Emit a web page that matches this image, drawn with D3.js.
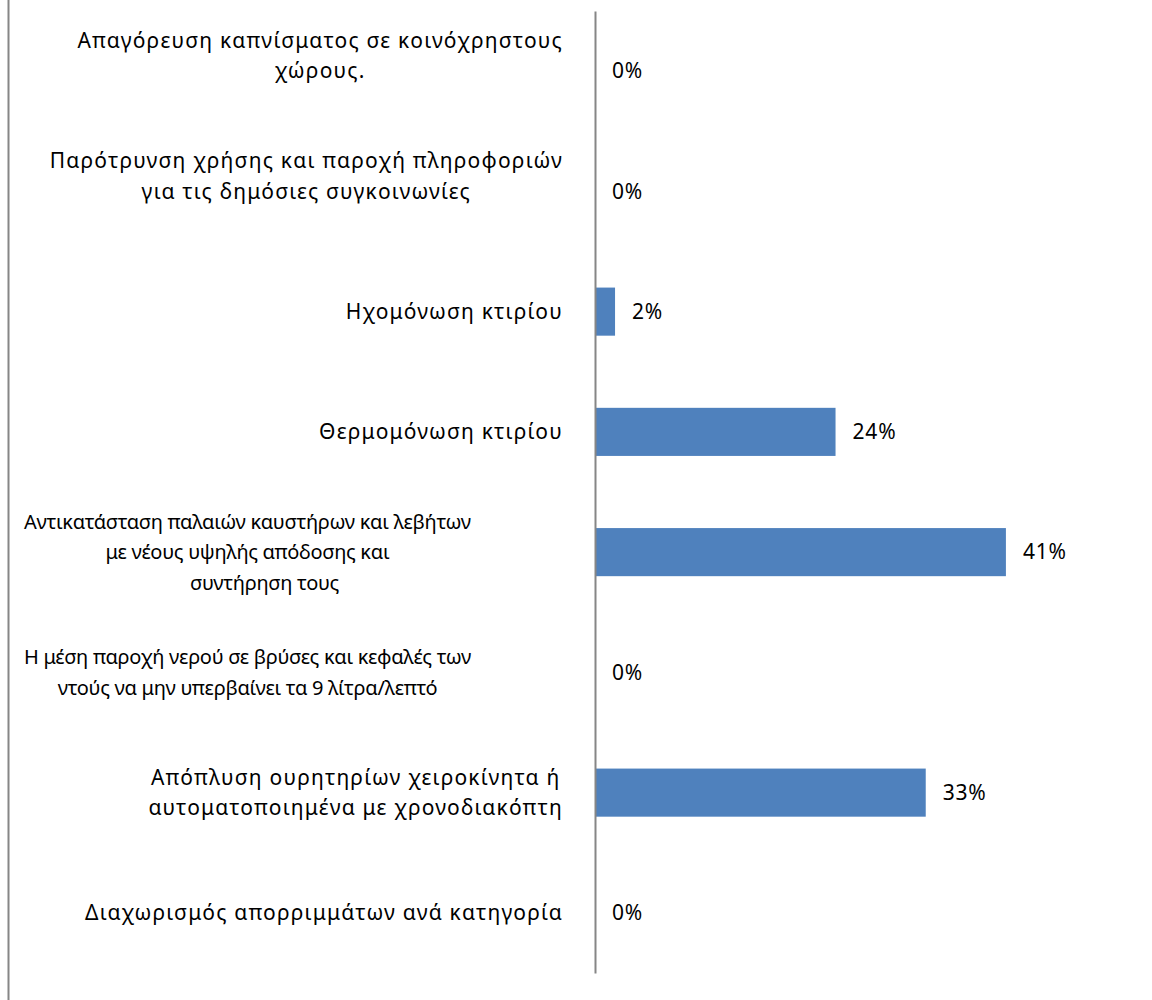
<!DOCTYPE html>
<html>
<head>
<meta charset="utf-8">
<script src="https://cdn.jsdelivr.net/npm/d3@7/dist/d3.min.js"></script>
<style>
    body { margin: 0; background: #fff; }
    svg text { font-family: "Noto Sans", sans-serif; fill: #000; white-space: pre; }
</style>
</head>
<body>
<div id="chart"></div>
<script>
//Datos (de arriba a abajo)
const categories = [
    ['Απαγόρευση καπνίσματος σε κοινόχρηστους', 'χώρους.', ''],
    ['Παρότρυνση χρήσης και παροχή πληροφοριών', 'για τις δημόσιες συγκοινωνίες', ''],
    ['Ηχομόνωση κτιρίου'],
    ['Θερμομόνωση κτιρίου'],
    ['Αντικατάσταση παλαιών καυστήρων και λεβήτων', 'με νέους υψηλής απόδοσης και', '       συντήρηση τους'],
    ['Η μέση παροχή νερού σε βρύσες και κεφαλές των', 'ντούς να μην υπερβαίνει τα 9 λίτρα/λεπτό'],
    ['Απόπλυση ουρητηρίων χειροκίνητα ή', 'αυτοματοποιημένα με χρονοδιακόπτη'],
    ['Διαχωρισμός απορριμμάτων ανά κατηγορία']
];
const values = [0, 0, 2, 24, 41, 0, 33, 0];

//Colores
const COLOR_BAR = '#4F81BD',
    COLOR_LINE = '#868686';

let margin = {top: 11, right: 60, bottom: 27, left: 595},
    width = 1152 - margin.left - margin.right,
    height = 1000 - margin.top - margin.bottom;

let svg = d3.select('#chart')
    .append('svg')
        .attr('width', 1152)
        .attr('height', 1000);

//Borde izquierdo del área del gráfico
svg.append('line')
    .attr('x1', 8.5).attr('x2', 8.5)
    .attr('y1', 0).attr('y2', 1000)
    .attr('stroke', COLOR_LINE)
    .attr('stroke-width', 2);

let g = svg.append('g')
    .attr('transform', 'translate(' + margin.left + ',' + margin.top + ')');

let idx = d3.range(categories.length);

let y = d3.scaleBand()
    .domain(idx)
    .range([0, height])
    .paddingInner(0.6)
    .paddingOuter(0.3);

let x = d3.scaleLinear()
    .domain([0, 45])
    .range([0, 451]);

//Barras
g.selectAll('.bar')
    .data(idx)
    .enter()
    .append('rect')
    .attr('class', 'bar')
    .attr('x', x(0))
    .attr('y', function(i) { return y(i); })
    .attr('width', function(i) { return x(values[i]) - x(0); })
    .attr('height', y.bandwidth())
    .attr('fill', COLOR_BAR);

//Eje vertical
let axis = g.append('g')
    .call(d3.axisLeft(y).tickSize(0).tickSizeOuter(0).tickFormat(''));
axis.select('.domain')
    .attr('stroke', COLOR_LINE)
    .attr('stroke-width', 2);

//Etiquetas de valores
g.selectAll('.value')
    .data(idx)
    .enter()
    .append('text')
    .attr('class', 'value')
    .attr('x', function(i) { return x(values[i]) + 17; })
    .attr('y', function(i) { return y(i) + y.bandwidth() / 2; })
    .attr('dy', '0.35em')
    .style('font-size', '21px')
    .style('letter-spacing', '0.8px')
    .text(function(i) { return values[i] + '%'; });

//Etiquetas de categorías
const LINE_H = 30.5, AREA_LEFT = 24 - margin.left, AREA_RIGHT = 563 - margin.left;

idx.forEach(function(i) {
    let lines = categories[i];
    let cy = y(i) + y.bandwidth() / 2;
    //Textos muy largos: Excel los desborda desde la izquierda y los comprime
    let long = lines.join(' ').length > 80;
    let grp = g.append('g').attr('class', 'cat');
    let texts = lines.map(function(l, k) {
        return grp.append('text')
            .attr('text-anchor', 'middle')
            .attr('y', cy + (k - (lines.length - 1) / 2) * LINE_H)
            .attr('dy', '0.35em')
            .style('font-size', long ? '20px' : '21px')
            .style('letter-spacing', long ? '-0.3px' : '1.2px')
            .text(l);
    });
    let w = d3.max(texts, function(t) { return t.node().getComputedTextLength(); });
    let cx = long ? AREA_LEFT + w / 2 : AREA_RIGHT - w / 2;
    texts.forEach(function(t) { t.attr('x', cx); });
});
</script>
</body>
</html>
